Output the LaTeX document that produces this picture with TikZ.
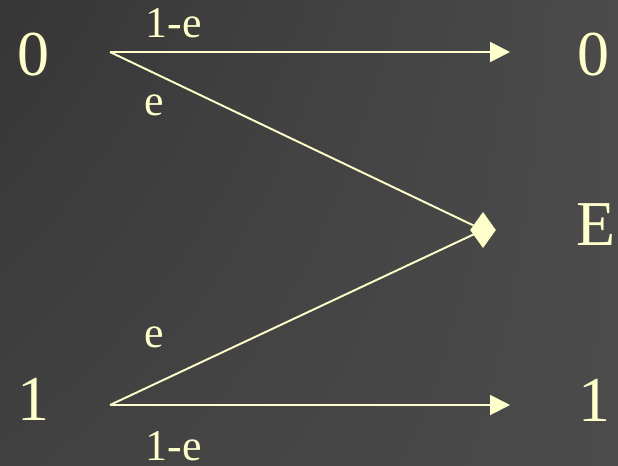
\documentclass[tikz,border=0pt]{standalone}
\usepackage{fontspec}
\setmainfont{Liberation Serif}
\usetikzlibrary{arrows.meta,shapes.geometric,shadings}
\definecolor{paleyellow}{HTML}{FFFFCC}
\definecolor{bgdark}{HTML}{363636}
\definecolor{bgmid}{HTML}{414141}
\definecolor{bglight}{HTML}{4B4B4B}

\begin{document}
\begin{tikzpicture}[x=0.02cm, y=-0.02cm]
  \tikzset{
    big_label/.style={text=paleyellow, inner sep=0pt, anchor=base, font=\fontsize{36.4}{40}\selectfont},
    small_label/.style={text=paleyellow, inner sep=0pt, anchor=base, font=\fontsize{25}{28}\selectfont},
    chan_line/.style={draw=paleyellow, line width=1.1pt},
    chan_arrow/.style={chan_line, -{Triangle[length=0.4cm, width=0.4cm]}},
    erase_node/.style={diamond, fill=paleyellow, draw=paleyellow, line width=0.4pt, inner sep=0pt, minimum width=0.5cm, minimum height=0.7cm}
  }

  % Fondo con degradado
  \shade[upper left=bgdark, lower left=bgmid, upper right=bglight, lower right=bglight] (0,0) rectangle (618,466);
  \useasboundingbox (0,0) rectangle (618,466);

  % Entradas y salidas
  \node[big_label] (in0) at (33,75) {0};
  \node[big_label] (in1) at (33,420) {1};
  \node[big_label] (out0) at (593,75) {0};
  \node[big_label] (outE) at (596,245) {E};
  \node[big_label] (out1) at (594,421) {1};

  % Extremos de las aristas
  \coordinate (s0) at (110,52);
  \coordinate (s1) at (110,405);
  \coordinate (t0) at (510,52);
  \coordinate (t1) at (510,405);
  \node[erase_node] (merge) at (483,230) {};

  % Aristas
  \draw[chan_arrow] (s0) -- (t0);
  \draw[chan_arrow] (s1) -- (t1);
  \draw[chan_line] (s0) -- (merge);
  \draw[chan_line] (s1) -- (merge);

  % Probabilidades
  \node[small_label] (p00) at (174,38) {1-e};
  \node[small_label] (p0E) at (154,115) {e};
  \node[small_label] (p1E) at (154,347) {e};
  \node[small_label] (p11) at (174,460) {1-e};
\end{tikzpicture}
\end{document}
